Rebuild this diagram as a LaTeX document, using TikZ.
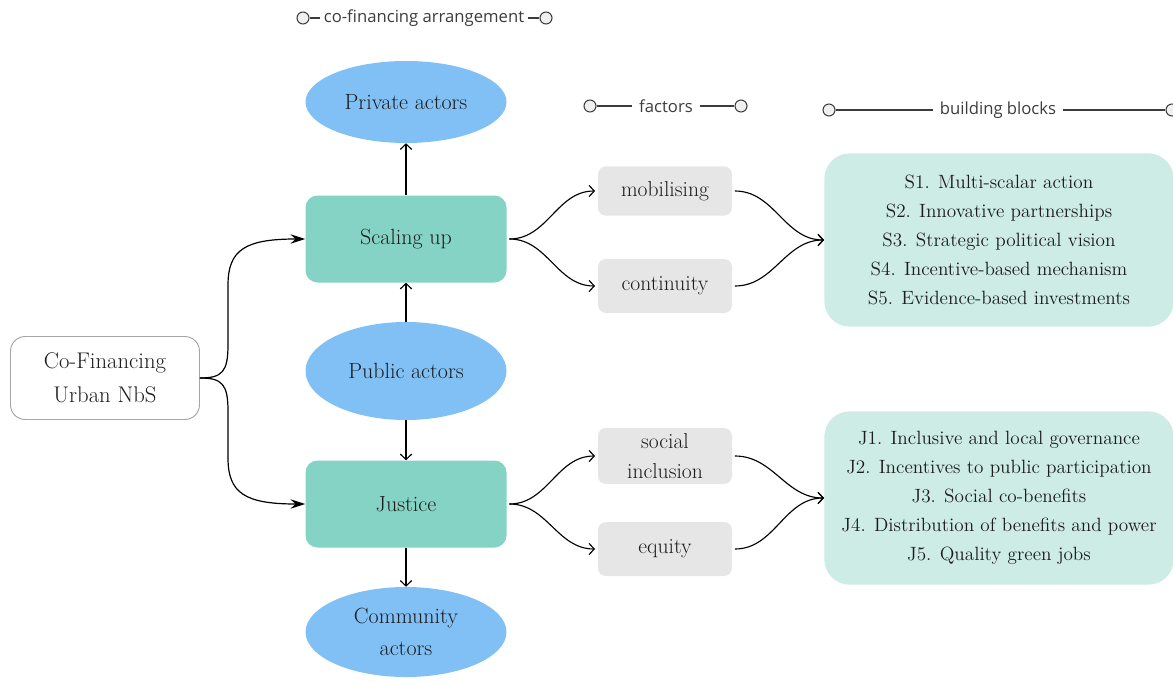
\documentclass[tikz,border=0pt]{standalone}
\usepackage{fontspec}
\newfontfamily\labelfont{Open Sans}
\usetikzlibrary{shapes.geometric,arrows.meta}
\definecolor{actorblue}{HTML}{80C0F5}
\definecolor{dimteal}{HTML}{85D3C4}
\definecolor{blockmint}{HTML}{CDECE5}
\definecolor{factorgray}{HTML}{E6E6E6}
\definecolor{inkgray}{HTML}{1C1C1C}
\definecolor{taggray}{HTML}{3C3C3C}
\tikzset{
  actor/.style={ellipse, fill=actorblue, draw=none, inner sep=0pt, text=inkgray,
    align=center, font=\fontsize{16.5}{24}\selectfont},
  dimension/.style={rectangle, rounded corners=9pt, fill=dimteal, draw=none,
    minimum width=150.75pt, minimum height=65.25pt, inner sep=0pt, text=inkgray,
    font=\fontsize{16.5}{22}\selectfont},
  rootbox/.style={rectangle, rounded corners=11pt, fill=white, draw=gray!70, line width=0.7pt,
    minimum width=141.75pt, minimum height=62.25pt, inner sep=0pt, align=center, text=inkgray,
    font=\fontsize{17}{25.5}\selectfont},
  factorbox/.style={rectangle, rounded corners=6pt, fill=factorgray, draw=none,
    minimum width=100.5pt, inner sep=0pt, align=center, text=inkgray,
    font=\fontsize{16.2}{22.5}\selectfont},
  blockbox/.style={rectangle, rounded corners=19pt, fill=blockmint, draw=none,
    minimum width=262pt, minimum height=130pt, inner sep=0pt, align=center, text=inkgray,
    font=\fontsize{14.4}{21.75}\selectfont},
  link/.style={line width=0.85pt, -{Straight Barb[length=4pt,width=8.5pt,line width=0.85pt]}},
  feed/.style={line width=0.9pt, -{Stealth[length=11pt,width=7pt]}},
  tagtext/.style={font=\labelfont\fontsize{12.5}{15}\selectfont, text=taggray, inner sep=0pt},
  tagline/.style={line width=0.8pt, draw=taggray},
  tagend/.style={circle, fill=gray!12, draw=taggray, line width=0.8pt, minimum size=9pt, inner sep=0pt},
}
\begin{document}
\begin{tikzpicture}[x=0.75pt, y=-0.75pt]
\useasboundingbox (0,0) rectangle (1173,681);

% column headings
\node[tagend] (c1a) at (303,18) {};
\node[tagtext] (c1) at (424,18) {co-financing arrangement};
\node[tagend] (c1b) at (546,18) {};
\draw[tagline] (c1a.east) -- ([xshift=-3pt]c1.west);
\draw[tagline] ([xshift=3pt]c1.east) -- (c1b.west);

\node[tagend] (c2a) at (590,106) {};
\node[tagtext] (c2) at (666,106) {factors};
\node[tagend] (c2b) at (741,106) {};
\draw[tagline] (c2a.east) -- ([xshift=-5pt]c2.west);
\draw[tagline] ([xshift=5pt]c2.east) -- (c2b.west);

\node[tagend] (c3a) at (829,110) {};
\node[tagtext] (c3) at (998,110) {building blocks};
\node[tagend] (c3b) at (1172,110) {};
\draw[tagline] (c3a.east) -- ([xshift=-5pt]c3.west);
\draw[tagline] ([xshift=5pt]c3.east) -- (c3b.west);

% actors and dimensions
\node[actor, minimum width=150.75pt, minimum height=61.5pt] (private) at (406,102) {Private actors};
\node[dimension] (scale) at (406,239) {Scaling up};
\node[actor, minimum width=150.75pt, minimum height=73.5pt] (public) at (406,371) {Public actors};
\node[dimension] (justice) at (406,504) {Justice};
\node[actor, minimum width=150.75pt, minimum height=67.5pt] (community) at (406,632) {Community\\actors};

\node[rootbox] (root) at (105,378) {Co-Financing\\Urban NbS};

% factors
\node[factorbox, minimum height=37pt] (mob) at (665,191) {mobilising};
\node[factorbox, minimum height=40.5pt] (cont) at (665,286) {continuity};
\node[factorbox, minimum height=42pt] (soc) at (665,456) {social\\inclusion};
\node[factorbox, minimum height=40.5pt] (eq) at (665,549) {equity};

% building blocks
\node[blockbox] (sblocks) at (999,240) {S1. Multi-scalar action\\S2. Innovative partnerships\\S3. Strategic political vision\\S4. Incentive-based mechanism\\S5. Evidence-based investments};
\node[blockbox] (jblocks) at (999,498) {J1. Inclusive and local governance\\J2. Incentives to public participation\\J3. Social co-benefits\\J4. Distribution of benefits and power\\J5. Quality green jobs};

% vertical links between actors and dimensions
\draw[link] (scale.north) -- (private.south);
\draw[link] (public.north) -- (scale.south);
\draw[link] (public.south) -- (justice.north);
\draw[link] (justice.south) -- (community.north);

% root to the two dimensions
\coordinate (rs) at (root.east);
\draw[feed] (rs) .. controls (222,378) and (228,372) .. (228,345)
  -- (228,285) .. controls (228,250) and (245,239) .. (scale.west);
\draw[feed] (rs) .. controls (222,378) and (228,384) .. (228,411)
  -- (228,458) .. controls (228,493) and (245,504) .. (justice.west);

% dimensions to factors to building blocks
\draw[link] ([xshift=2pt]scale.east) to[out=0,in=180] ([xshift=-2pt]mob.west);
\draw[link] ([xshift=2pt]scale.east) to[out=0,in=180] ([xshift=-2pt]cont.west);
\draw[link] ([xshift=2pt]mob.east) to[out=0,in=180] (sblocks.west);
\draw[link] ([xshift=2pt]cont.east) to[out=0,in=180] (sblocks.west);

\draw[link] ([xshift=2pt]justice.east) to[out=0,in=180] ([xshift=-2pt]soc.west);
\draw[link] ([xshift=2pt]justice.east) to[out=0,in=180] ([xshift=-2pt]eq.west);
\draw[link] ([xshift=2pt]soc.east) to[out=0,in=180] (jblocks.west);
\draw[link] ([xshift=2pt]eq.east) to[out=0,in=180] (jblocks.west);
\end{tikzpicture}
\end{document}
